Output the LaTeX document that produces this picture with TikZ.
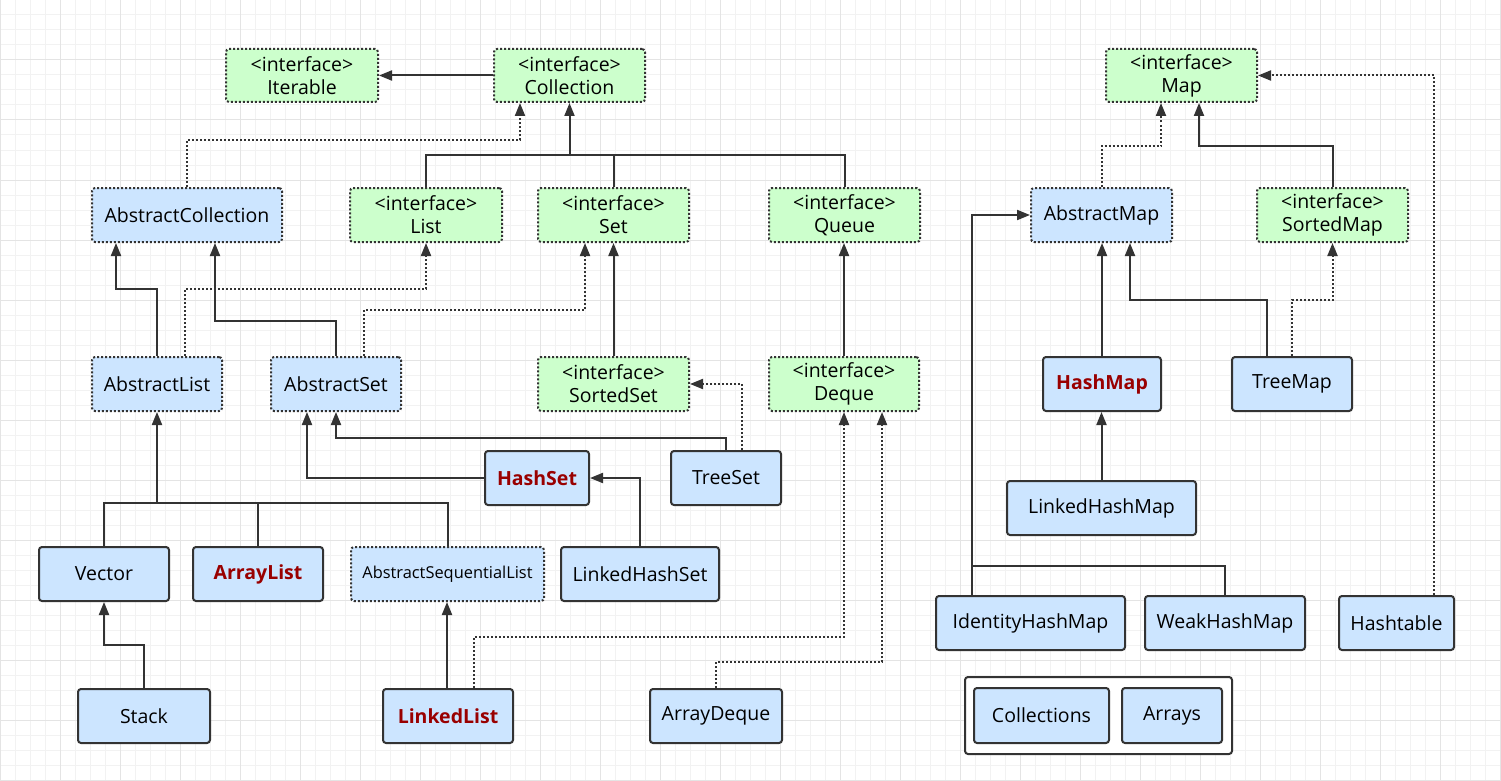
\documentclass[tikz,border=0pt]{standalone}
\usepackage{fontspec}
\setmainfont{Open Sans}
\usetikzlibrary{arrows.meta}

\definecolor{ink}{HTML}{333333}
\definecolor{clsfill}{HTML}{CCE5FF}
\definecolor{ifacefill}{HTML}{CCFFCC}
\definecolor{hot}{HTML}{990000}
\definecolor{gridminor}{HTML}{F2F2F2}
\definecolor{gridmajor}{HTML}{E4E4E4}

\tikzset{
  box/.style={draw=ink, line width=2pt, rounded corners=3pt, inner sep=0pt,
    align=center, text=black, font=\fontsize{19.5}{23}\selectfont},
  cls/.style={box, fill=clsfill},
  abstractcls/.style={cls, dash pattern=on 2pt off 2pt},
  iface/.style={box, fill=ifacefill, dash pattern=on 2pt off 2pt},
  hotcls/.style={cls, text=hot, font=\fontsize{19.5}{23}\selectfont\bfseries},
  smalltext/.style={font=\fontsize{16.4}{20}\selectfont},
  link/.style={draw=ink, line width=2pt},
  inherit/.style={link, -{Triangle[length=13pt,width=10pt]}},
  realize/.style={inherit, dash pattern=on 2pt off 2pt},
}

% \umlbox{style}{name}{x1}{y1}{x2}{y2}{text}
\newcommand\umlbox[7]{%
  \node[#1, minimum width={(#5-#3)*1pt}, minimum height={(#6-#4)*1pt}]
    (#2) at ({(#3+#5)/2},{(#4+#6)/2}) {#7};}
\newcommand\iftag{\textless interface\textgreater}

\begin{document}
\begin{tikzpicture}[x=1pt,y=-1pt]
  \useasboundingbox (0,0) rectangle (1501,781);
  \fill[white] (0,0) rectangle (1501,781);

  % background grid
  \foreach \gx in {0,15,...,1500} \draw[gridminor, line width=1pt] (\gx,0) -- (\gx,781);
  \foreach \gy in {0,15,...,780} \draw[gridminor, line width=1pt] (0,\gy) -- (1501,\gy);
  \foreach \gx in {0,60,...,1500} \draw[gridmajor, line width=1pt] (\gx,0) -- (\gx,781);
  \foreach \gy in {0,60,...,780} \draw[gridmajor, line width=1pt] (0,\gy) -- (1501,\gy);

  % interfaces
  \umlbox{iface}{iter}{226}{49}{378}{102}{\iftag\\Iterable}
  \umlbox{iface}{coll}{494}{49}{645}{102}{\iftag\\Collection}
  \umlbox{iface}{map}{1106}{49}{1257}{102}{\iftag\\Map}
  \umlbox{iface}{list}{350}{188}{502}{242}{\iftag\\List}
  \umlbox{iface}{set}{538}{188}{689}{242}{\iftag\\Set}
  \umlbox{iface}{queue}{769}{188}{920}{242}{\iftag\\Queue}
  \umlbox{iface}{smap}{1257}{188}{1408}{242}{\iftag\\SortedMap}
  \umlbox{iface}{sset}{538}{357}{689}{411}{\iftag\\SortedSet}
  \umlbox{iface}{deque}{769}{357}{919}{411}{\iftag\\Deque}

  % abstract classes
  \umlbox{abstractcls}{acol}{92}{188}{282}{242}{AbstractCollection}
  \umlbox{abstractcls}{amap}{1031}{188}{1172}{242}{AbstractMap}
  \umlbox{abstractcls}{alist}{92}{357}{222}{411}{AbstractList}
  \umlbox{abstractcls}{aset}{271}{357}{401}{411}{AbstractSet}
  \umlbox{abstractcls, smalltext}{asl}{351}{547}{544}{601}{AbstractSequentialList}

  % concrete classes
  \umlbox{cls}{tset}{671}{451}{781}{505}{TreeSet}
  \umlbox{cls}{lhmap}{1007}{481}{1196}{535}{LinkedHashMap}
  \umlbox{cls}{vector}{39}{547}{169}{601}{Vector}
  \umlbox{cls}{lhset}{561}{547}{719}{601}{LinkedHashSet}
  \umlbox{cls}{tmap}{1232}{357}{1352}{411}{TreeMap}
  \umlbox{cls}{ihmap}{936}{596}{1125}{650}{IdentityHashMap}
  \umlbox{cls}{whmap}{1145}{596}{1305}{650}{WeakHashMap}
  \umlbox{cls}{htable}{1339}{596}{1454}{650}{Hashtable}
  \umlbox{cls}{stack}{78}{689}{210}{743}{Stack}
  \umlbox{cls}{adeque}{650}{689}{782}{743}{ArrayDeque}

  % most used implementations
  \umlbox{hotcls}{hset}{485}{451}{589}{505}{HashSet}
  \umlbox{hotcls}{hmap}{1043}{357}{1161}{411}{HashMap}
  \umlbox{hotcls}{arrlist}{193}{547}{323}{601}{ArrayList}
  \umlbox{hotcls}{llist}{383}{689}{513}{743}{LinkedList}

  % utility classes
  \umlbox{box, fill=white}{utils}{965}{677}{1232}{754}{}
  \umlbox{cls}{colls}{974}{688}{1109}{743}{Collections}
  \umlbox{cls}{arrays}{1122}{688}{1222}{743}{Arrays}

  % Collection side
  \draw[inherit] (coll.west) -- (iter.east);
  \draw[link] (list.north) |- (0,155 -| queue.north) -- (queue.north);
  \draw[link] (set.north) -- (set.north |- 0,155);
  \draw[inherit] (coll.south |- 0,155) -- (coll.south);
  \draw[realize] (acol.north) |- (520,140) -- (520,0 |- coll.south);

  \draw[inherit] (alist.north) |- (116,289) -- (116,0 |- acol.south);
  \draw[inherit] (aset.north) |- (215,321) -- (215,0 |- acol.south);
  \draw[realize] (185,0 |- alist.north) |- (426,289) -- (426,0 |- list.south);
  \draw[realize] (364,0 |- aset.north) |- (585,310) -- (585,0 |- set.south);
  \draw[inherit] (sset.north) -- (sset.north |- set.south);
  \draw[inherit] (deque.north) -- (deque.north |- queue.south);

  \draw[realize] (742,0 |- tset.north) |- (sset.east);
  \draw[inherit] (726,0 |- tset.north) |- (336,438) -- (336,0 |- aset.south);
  \draw[inherit] (hset.west) -| (307,0 |- aset.south);
  \draw[inherit] (lhset.north) |- (hset.east);

  \draw[link] (vector.north) |- (0,503 -| asl.north) -- (asl.north);
  \draw[link] (arrlist.north) -- (arrlist.north |- 0,503);
  \draw[inherit] (alist.south |- 0,503) -- (alist.south);
  \draw[inherit] (stack.north) |- (0,645 -| vector.south) -- (vector.south);
  \draw[inherit] (447,0 |- llist.north) -- (447,0 |- asl.south);
  \draw[realize] (474,0 |- llist.north) |- (844,637) -- (844,0 |- deque.south);
  \draw[realize] (adeque.north) |- (882,662) -- (882,0 |- deque.south);

  % Map side
  \draw[realize] (amap.north) |- (1161,146) -- (1161,0 |- map.south);
  \draw[inherit] (smap.north) |- (1199,146) -- (1199,0 |- map.south);
  \draw[inherit] (hmap.north) -- (hmap.north |- amap.south);
  \draw[inherit] (1267,0 |- tmap.north) |- (1130,300) -- (1130,0 |- amap.south);
  \draw[realize] (tmap.north) |- (0,300 -| smap.south) -- (smap.south);
  \draw[inherit] (lhmap.north) -- (lhmap.north |- hmap.south);
  \coordinate (mapbar) at (972,566);
  \draw[inherit] (972,0 |- ihmap.north) |- (amap.west);
  \draw[link] (mapbar) -| (whmap.north);
  \draw[realize] (1434,0 |- htable.north) |- (map.east);
\end{tikzpicture}
\end{document}
